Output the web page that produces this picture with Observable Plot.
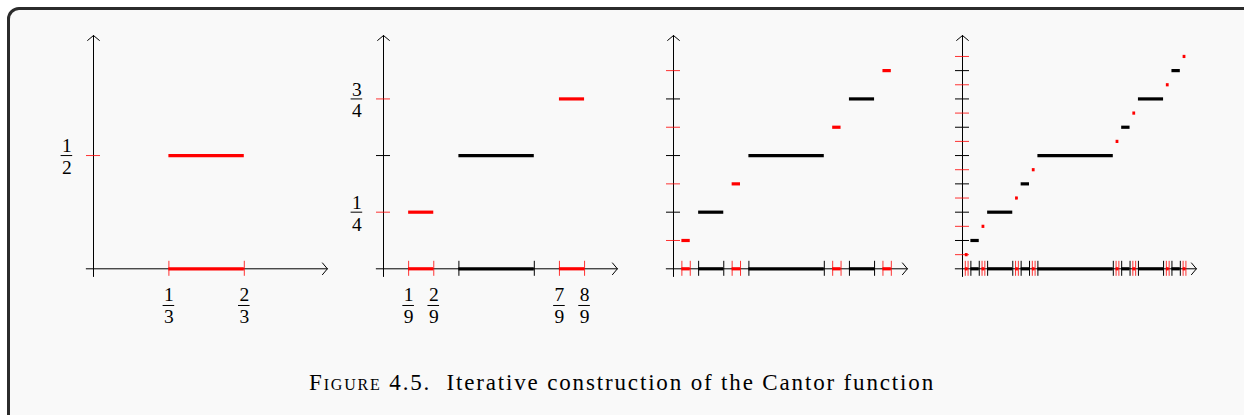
<!DOCTYPE html>
<html>
<head>
<meta charset="utf-8">
<script src="https://cdn.jsdelivr.net/npm/d3@7"></script>
<script src="https://cdn.jsdelivr.net/npm/@observablehq/plot@0.6"></script>
<style>
  html, body { margin: 0; padding: 0; background: #ffffff; width: 1244px; height: 415px; overflow: hidden; }
  #frame { position: absolute; left: 7px; top: 7px; width: 1280px; height: 450px; box-sizing: border-box;
           border: 3px solid #2b2b2b; border-radius: 12px; background: #f9f9f9; }
  .panel { position: absolute; top: 0; width: 300px; height: 340px; }
  #caption { position: absolute; left: 0; width: 1244px; top: 371px; text-align: center;
             font-family: "Liberation Serif", serif; font-size: 23px; line-height: 23px; color: #000; white-space: pre; }
  #caption .sc { font-variant: small-caps; }
  #capInner { display: inline-block; }
</style>
</head>
<body>
<div id="frame"></div>
<div id="panels"></div>
<div id="caption"><span id="capInner"></span></div>
<script>
// ---- Data: intervals removed at each stage of the Cantor construction ----
const intervalStart = [1/3, 1/9, 7/9, 1/27, 7/27, 19/27, 25/27, 1/81, 7/81, 19/81, 25/81, 55/81, 61/81, 73/81, 79/81];
const intervalEnd   = [2/3, 2/9, 8/9, 2/27, 8/27, 20/27, 26/27, 2/81, 8/81, 20/81, 26/81, 56/81, 62/81, 74/81, 80/81];
const intervalValue = [1/2, 1/4, 3/4, 1/8, 3/8, 5/8, 7/8, 1/16, 3/16, 5/16, 7/16, 9/16, 11/16, 13/16, 15/16];
const intervalLevel = [1, 2, 2, 3, 3, 3, 3, 4, 4, 4, 4, 4, 4, 4, 4];

const panelStages = [1, 2, 3, 4];
const xTickLabels = [["1/3", "2/3"], ["1/9", "2/9", "7/9", "8/9"], [], []];
const yTickLabels = [["1/2"], ["1/4", "3/4"], [], []];

const captionLead = "Figure 4.5.";
const captionText = "Iterative construction of the Cantor function";

// axis extents (data units) for the arrowed axes
const axisArrows = [
  {x1: -0.032, y1: 0, x2: 1.034, y2: 0},
  {x1: 0, y1: -0.034, x2: 0, y2: 1.03}
];

// ---- Layout / style ----
const RED = "#ff0000", BLACK = "#000000";
const ORIGIN_X = [93.3, 383.1, 672.5, 962.3];
const ORIGIN_Y = 268.3;
const UNIT_X = 226.2, UNIT_Y = 226.5;
const PAD = 60;
const FONT = "Liberation Serif";
const LABEL_SIZE = 19.5;
const FRAC_GAP = 21.8;           // px between numerator and denominator centres
const CAPTION_WIDTH = 626;

const intervals = intervalStart.map((x1, i) => ({x1, x2: intervalEnd[i], y: intervalValue[i], level: intervalLevel[i]}));

function parseFrac(s) {
  const [n, d] = s.split("/");
  return {num: n, den: d, stacked: n + "\n" + d, value: (+n) / (+d)};
}

const container = document.getElementById("panels");

panelStages.forEach((stage, i) => {
  const segs = intervals.filter(d => d.level <= stage);
  const oldSegs = segs.filter(d => d.level < stage);
  const newSegs = segs.filter(d => d.level === stage);
  const ends = arr => arr.flatMap(d => [d.x1, d.x2]);
  const xt = 7.5 / UNIT_Y;
  const yt = 7.0 / UNIT_X;
  const xl = xTickLabels[i].map(parseFrac);
  const yl = yTickLabels[i].map(parseFrac);
  const barX = 5.8 / UNIT_X;
  const yLabDx = 26.6;
  const fracText = {fontSize: LABEL_SIZE, fontFamily: FONT, fill: BLACK, lineHeight: FRAC_GAP / LABEL_SIZE, lineAnchor: "middle"};

  const marks = [
    Plot.arrow(axisArrows, {x1: "x1", y1: "y1", x2: "x2", y2: "y2", stroke: BLACK, strokeWidth: 1, headLength: 11.5, headAngle: 100}),
    Plot.ruleY(oldSegs, {y: "y", x1: -yt, x2: yt, stroke: BLACK, strokeWidth: 1}),
    Plot.ruleY(newSegs, {y: "y", x1: -yt, x2: yt, stroke: RED, strokeWidth: 1, strokeOpacity: 0.8}),
    Plot.ruleX(ends(oldSegs), {x: d => d, y1: -xt, y2: xt, stroke: BLACK, strokeWidth: 1}),
    Plot.ruleX(ends(newSegs), {x: d => d, y1: -xt, y2: xt, stroke: RED, strokeWidth: 1, strokeOpacity: 0.8}),
    Plot.ruleY(oldSegs, {y: 0, x1: "x1", x2: "x2", stroke: BLACK, strokeWidth: 3.2}),
    Plot.ruleY(newSegs, {y: 0, x1: "x1", x2: "x2", stroke: RED, strokeWidth: 3.2}),
    Plot.ruleY(oldSegs, {y: "y", x1: "x1", x2: "x2", stroke: BLACK, strokeWidth: 3.2}),
    Plot.ruleY(newSegs, {y: "y", x1: "x1", x2: "x2", stroke: RED, strokeWidth: 3.2}),
    // x fraction labels (numerator over denominator, with a bar)
    Plot.text(xl, {x: "value", y: 0, text: "stacked", dy: 36.4, ...fracText}),
    Plot.ruleY(xl, {y: 0, x1: d => d.value - barX, x2: d => d.value + barX, dy: 36.7, stroke: BLACK, strokeWidth: 1}),
    // y fraction labels
    Plot.text(yl, {x: 0, y: "value", text: "stacked", dx: -yLabDx, dy: 0.6, ...fracText}),
    Plot.ruleY(yl, {y: "value", x1: -(yLabDx + 5.8) / UNIT_X, x2: -(yLabDx - 5.8) / UNIT_X, stroke: BLACK, strokeWidth: 1})
  ];

  const chart = Plot.plot({
    width: 300,
    height: 340,
    margin: 0,
    x: {domain: [0, 1], range: [PAD, PAD + UNIT_X], axis: null},
    y: {domain: [0, 1], range: [ORIGIN_Y, ORIGIN_Y - UNIT_Y], axis: null},
    style: {background: "transparent", overflow: "visible"},
    marks
  });
  const div = document.createElement("div");
  div.className = "panel";
  div.style.left = (ORIGIN_X[i] - PAD) + "px";
  div.appendChild(chart);
  container.appendChild(div);
});

// caption, stretched to the reference width
const cap = document.getElementById("capInner");
const sc = document.createElement("span");
sc.className = "sc";
sc.textContent = captionLead;
cap.appendChild(sc);
cap.appendChild(document.createTextNode("  " + captionText));
const w0 = cap.getBoundingClientRect().width;
const nChars = (captionLead + "  " + captionText).length;
cap.style.letterSpacing = ((CAPTION_WIDTH - w0) / nChars) + "px";
</script>
</body>
</html>
